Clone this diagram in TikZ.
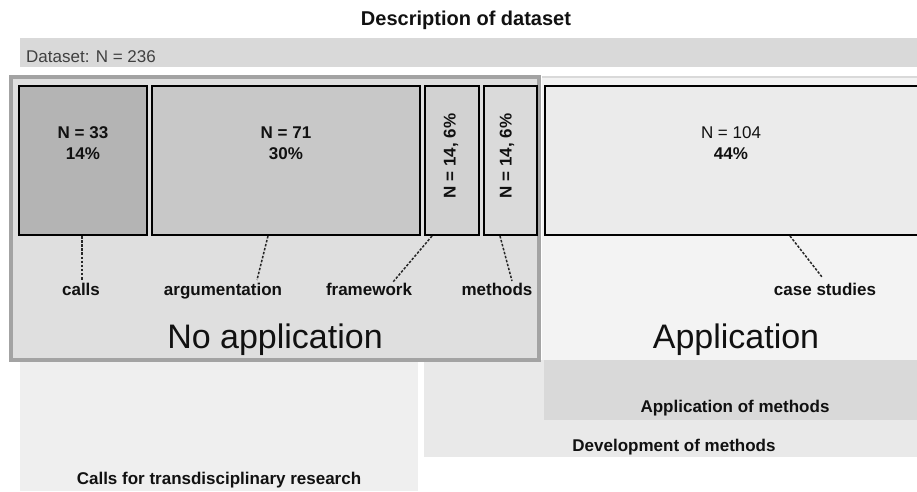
\documentclass[tikz,border=0pt]{standalone}
\usepackage{fontspec}
\setmainfont{Liberation Sans}
\definecolor{cCalls}{HTML}{B4B4B4}
\definecolor{cArg}{HTML}{C8C8C8}
\definecolor{cFrame}{HTML}{D2D2D2}
\definecolor{cMeth}{HTML}{DADADA}
\definecolor{cCase}{HTML}{EBEBEB}
\definecolor{cNoApp}{HTML}{DFDFDF}
\definecolor{cNoAppBorder}{HTML}{A3A3A3}
\definecolor{cApp}{HTML}{F3F3F3}
\definecolor{cData}{HTML}{D9D9D9}
\definecolor{cCallsReg}{HTML}{EFEFEF}
\definecolor{cDev}{HTML}{E9E9E9}
\definecolor{cAppMeth}{HTML}{D9D9D9}
\definecolor{cText}{HTML}{111111}
\begin{document}
\begin{tikzpicture}[x=1pt,y=-1pt,
  catbox/.style={draw=black,line width=1.4pt},
  lbl/.style={font=\fontsize{17}{20}\selectfont\bfseries,text=cText,inner sep=0pt,anchor=base},
  reg/.style={font=\fontsize{17}{20}\selectfont,text=cText,inner sep=0pt,anchor=base},
  big/.style={font=\fontsize{34}{40}\selectfont,text=cText,inner sep=0pt,anchor=base},
  vlbl/.style={font=\fontsize{17}{20}\selectfont\bfseries,text=cText,inner sep=0pt,rotate=90,anchor=center},
  leader/.style={draw=black!85,line width=1.5pt,dash pattern=on 2.5pt off 1.6pt}]
\clip (0,0) rectangle (917,491);
\fill[white] (0,0) rectangle (917,491);
% bottom regions
\fill[cCallsReg] (20,360) rectangle (418,491);
\fill[cDev] (424,360) rectangle (917,457);
\fill[cAppMeth] (544,360) rectangle (917,420);
\node[lbl] (callsreg) at (219,484) {Calls for transdisciplinary research};
\node[lbl] (dev) at (674,451) {Development of methods};
\node[lbl] (appmeth) at (735,412) {Application of methods};
% title and dataset bar
\node[lbl,font=\fontsize{20}{24}\selectfont\bfseries] (title) at (466,25) {Description of dataset};
\fill[cData] (20,38) rectangle (917,67);
\node[reg,anchor=base west,text=black!75] (dataset) at (26,62) {Dataset: N = 236};
% application region
\fill[cApp] (542,77) rectangle (917,360);
\draw[cData,line width=2pt] (542,77) -- (917,77);
% no application frame
\draw[cNoAppBorder,fill=cNoApp,line width=4pt] (11,77) rectangle (539,360);
% category boxes
\draw[catbox,fill=cCalls] (19,86) rectangle (147,235);
\draw[catbox,fill=cArg] (152,86) rectangle (420,235);
\draw[catbox,fill=cFrame] (425,86) rectangle (479,235);
\draw[catbox,fill=cMeth] (484,86) rectangle (537,235);
\draw[catbox,fill=cCase] (545,86) rectangle (930,235);
% box texts
\node[lbl] (n33) at (83,138) {N = 33};
\node[lbl] (p14) at (83,159) {14\%};
\node[lbl] (n71) at (286,138) {N = 71};
\node[lbl] (p30) at (286,159) {30\%};
\node[vlbl] (nfw) at (451,156) {N = 14, 6\%};
\node[vlbl] (nme) at (507,156) {N = 14, 6\%};
\node[reg] (n104) at (731,138) {N = 104};
\node[lbl] (p44) at (731,159) {44\%};
% labels
\node[lbl] (calls) at (81,295) {calls};
\node[lbl] (arg) at (223,295) {argumentation};
\node[lbl] (fw) at (369,295) {framework};
\node[lbl] (meth) at (497,295) {methods};
\node[lbl] (case) at (825,295) {case studies};
\node[big] (noapp) at (275,348) {No application};
\node[big] (app) at (736,348) {Application};
% leader lines
\coordinate (cA) at (82,236); \coordinate (cB) at (82,280);
\coordinate (aA) at (268,236); \coordinate (aB) at (257,280);
\coordinate (fA) at (432,236); \coordinate (fB) at (393,282);
\coordinate (mA) at (500,236); \coordinate (mB) at (512,281);
\coordinate (sA) at (790,236); \coordinate (sB) at (822,277);
\draw[leader] (cA) -- (cB);
\draw[leader] (aA) -- (aB);
\draw[leader] (fA) -- (fB);
\draw[leader] (mA) -- (mB);
\draw[leader] (sA) -- (sB);
\end{tikzpicture}
\end{document}
